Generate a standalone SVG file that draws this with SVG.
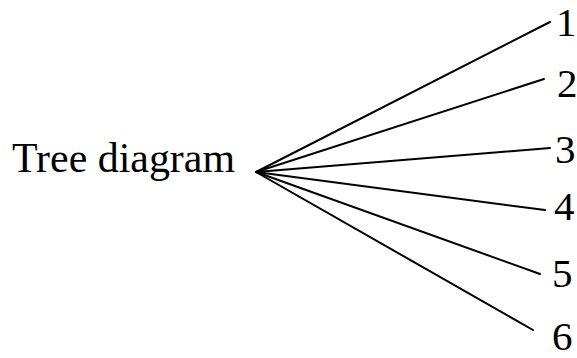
<svg xmlns="http://www.w3.org/2000/svg" width="577" height="358" viewBox="0 0 577 358">
<style>
text{font-family:"Liberation Serif","Times New Roman",serif;fill:#000}
.lbl{font-size:41px}
.conn line{stroke:#000;stroke-width:2;stroke-linecap:round}
</style>
<rect width="577" height="358" fill="#fff"/>
<g id="root"><text x="12" y="172" font-size="43" textLength="223" lengthAdjust="spacingAndGlyphs">Tree diagram</text></g>
<g id="connectors" class="conn">
<line x1="256" y1="172" x2="550" y2="22"/>
<line x1="256" y1="172" x2="544" y2="79"/>
<line x1="256" y1="172" x2="550" y2="148"/>
<line x1="256" y1="172" x2="545" y2="210"/>
<line x1="256" y1="172" x2="540" y2="274"/>
<line x1="256" y1="172" x2="533" y2="330"/>
</g>
<g id="n1"><text class="lbl" x="556" y="36">1</text></g>
<g id="n2"><text class="lbl" x="557" y="97">2</text></g>
<g id="n3"><text class="lbl" x="555" y="163">3</text></g>
<g id="n4"><text class="lbl" x="554" y="220">4</text></g>
<g id="n5"><text class="lbl" x="552" y="287">5</text></g>
<g id="n6"><text class="lbl" x="552" y="350">6</text></g>
</svg>
